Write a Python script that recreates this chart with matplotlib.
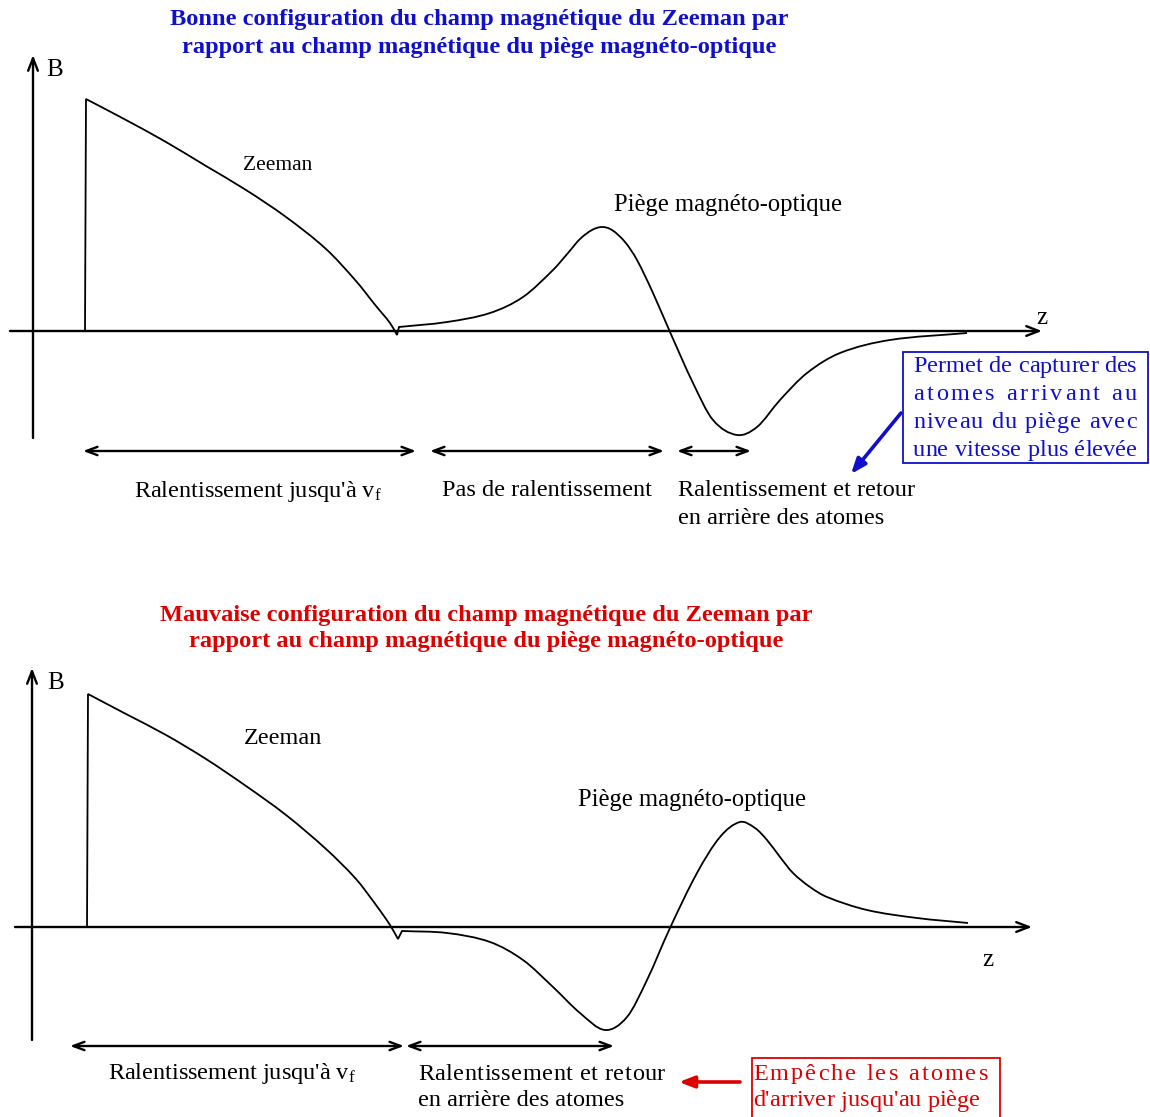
import matplotlib
matplotlib.use("Agg")
import matplotlib.pyplot as plt
from matplotlib.patches import Rectangle, PathPatch
from matplotlib.path import Path

plt.rcParams['font.family'] = ['Liberation Serif', 'DejaVu Serif']
plt.rcParams['mathtext.fontset'] = 'custom'
plt.rcParams['mathtext.rm'] = 'Liberation Serif'
plt.rcParams['mathtext.it'] = 'Liberation Serif'

# ---------------- data (z, B) ----------------
# Top panel: good configuration (B measured upward from the z axis)
z_top = [85, 86, 126, 166, 206, 246, 286, 326, 356, 376, 390, 397, 399,
         447, 490, 523, 553, 568, 580, 592, 602, 612, 625, 637, 653, 670,
         693, 713, 737, 757, 780, 807, 840, 890, 967]
B_top = [0, 232, 211, 189, 165, 141, 114, 82, 50, 25, 8, -4, 4,
         9, 18, 34, 61, 78, 92, 101, 104, 101, 89, 71, 38, -1,
         -52, -89, -104, -96, -69, -42, -22, -9, -2]

# Bottom panel: bad configuration
z_bot = [87, 88, 126, 166, 206, 246, 286, 326, 356, 376, 390, 398, 402,
         447, 490, 523, 553, 580, 605, 627, 647, 670, 697, 720, 740,
         755, 767, 780, 793, 810, 827, 867, 917, 968]
B_bot = [0, 233, 213, 192, 168, 141, 112, 78, 48, 22, 2, -12, -4,
         -6, -15, -33, -60, -86, -103, -90, -53, -1, 54, 90, 105,
         99, 87, 70, 54, 40, 30, 17, 9, 4]

# indices where the curve has a corner (foot, rise top, dip, jump)
corners_top = [0, 1, 11, 12]
corners_bot = [0, 1, 11, 12]

# Double-arrow segments (z start, z end)
seg_top = [(83, 416), (430, 664), (677, 751)]
seg_bot = [(70, 404), (406, 614)]

title_top = ["Bonne configuration du champ magnétique du Zeeman par",
             "rapport au champ magnétique du piège magnéto-optique"]
title_bot = ["Mauvaise configuration du champ magnétique du Zeeman par",
             "rapport au champ magnétique du piège magnéto-optique"]
lbl_slow = "Ralentissement jusqu'à v$_\\mathrm{f}$"
lbl_none = "Pas de ralentissement"
lbl_back = ["Ralentissement et retour", "en arrière des atomes"]
lbl_zeeman = "Zeeman"
lbl_mot = "Piège magnéto-optique"
blue_note = ["Permet de capturer des", "atomes arrivant au",
             "niveau du piège avec", "une vitesse plus élevée"]
red_note = ["Empêche les atomes", "d'arriver jusqu'au piège"]

BLUE = '#1010CC'
RED = '#DD0000'

W, H = 1150, 1117
fig = plt.figure(figsize=(W / 100, H / 100), dpi=100)

# panel axes: 1 data unit = 1 pixel, B = 0 on the z axis
Y0_TOP, Y0_BOT = 331, 927   # pixel row of z axes
SPLIT = 560
ax1 = fig.add_axes([0, (H - SPLIT) / H, 1, SPLIT / H])
ax1.set_xlim(0, W)
ax1.set_ylim(Y0_TOP - SPLIT, Y0_TOP)
ax2 = fig.add_axes([0, 0, 1, (H - SPLIT) / H])
ax2.set_xlim(0, W)
ax2.set_ylim(Y0_BOT - H, Y0_BOT - SPLIT)
for a in (ax1, ax2):
    a.axis('off')

renderer = fig.canvas.get_renderer()


def smooth_curve(ax, xs, ys, corners, **kw):
    """Draw y(x) through the points with cubic Hermite Bezier pieces,
    keeping sharp corners at the given indices."""
    n = len(xs)
    cset = set(corners) | {0, n - 1}

    def slope(i, side):
        if i in cset:
            j = i + 1 if side > 0 else i - 1
            return (ys[j] - ys[i]) / (xs[j] - xs[i])
        return (ys[i + 1] - ys[i - 1]) / (xs[i + 1] - xs[i - 1])

    verts = [(xs[0], ys[0])]
    codes = [Path.MOVETO]
    for i in range(n - 1):
        x0, y0, x1, y1 = xs[i], ys[i], xs[i + 1], ys[i + 1]
        if i in cset and i + 1 in cset:
            verts.append((x1, y1)); codes.append(Path.LINETO)
            continue
        dx = x1 - x0
        m0 = slope(i, +1)
        m1 = slope(i + 1, -1)
        verts += [(x0 + dx / 3, y0 + m0 * dx / 3),
                  (x1 - dx / 3, y1 - m1 * dx / 3), (x1, y1)]
        codes += [Path.CURVE4] * 3
    ax.add_patch(PathPatch(Path(verts, codes), fill=False, **kw))


def axis_arrow(ax, x0, y0, x1, y1):
    ax.annotate('', xy=(x1, y1), xytext=(x0, y0),
                arrowprops=dict(arrowstyle='->,head_length=0.9,head_width=0.35',
                                lw=1.7, color='black', shrinkA=0, shrinkB=0))


def double_arrow(ax, x0, x1, y):
    ax.annotate('', xy=(x1, y), xytext=(x0, y),
                arrowprops=dict(arrowstyle='<->,head_length=0.8,head_width=0.3',
                                lw=1.7, color='black', shrinkA=0, shrinkB=0))


def text_width(s, **kw):
    t = fig.text(0, 0, s, **kw)
    w = t.get_window_extent(renderer).width
    t.remove()
    return w


def justify(ax, line, x0, x1, y, **kw):
    """Spread the characters of a line evenly between x0 and x1."""
    ref = text_width("x", **kw)
    total = text_width(line, **kw)
    n = len(line)
    extra = (x1 - x0 - total) / max(n - 1, 1)
    for i, ch in enumerate(line):
        if ch == ' ':
            continue
        pre = text_width(line[:i] + "x", **kw) - ref if i > 0 else 0
        ax.text(x0 + pre + i * extra, y, ch, ha='left', va='center', **kw)


FS = 17.5
TFS = 17.6

# ---------------- top panel ----------------
ax = ax1
for i, s in enumerate(title_top):
    ax.text(479, Y0_TOP - (20 + 27 * i), s, ha='center', va='center',
            fontsize=TFS, fontweight='bold', color=BLUE)
axis_arrow(ax, 10, 0, 1042, 0)
axis_arrow(ax, 33, Y0_TOP - 438, 33, Y0_TOP - 55)
ax.text(46, Y0_TOP - 70, "B", fontsize=18, ha='left', va='center')
ax.text(1042, Y0_TOP - 318, "z", fontsize=18, ha='center', va='center')
smooth_curve(ax, z_top, B_top, corners_top, edgecolor='black', lw=1.3)
ax.text(278, Y0_TOP - 165, lbl_zeeman, fontsize=15.5, ha='center', va='center')
ax.text(728, Y0_TOP - 205, lbl_mot, fontsize=17.7, ha='center', va='center')
for a_, b_ in seg_top:
    double_arrow(ax, a_, b_, Y0_TOP - 451)
ax.text(258, Y0_TOP - 491, lbl_slow, fontsize=FS, ha='center', va='center')
ax.text(547, Y0_TOP - 491, lbl_none, fontsize=FS, ha='center', va='center')
ax.text(678, Y0_TOP - 491, lbl_back[0], fontsize=FS, ha='left', va='center')
ax.text(678, Y0_TOP - 519, lbl_back[1], fontsize=FS, ha='left', va='center')
ax.add_patch(Rectangle((903, Y0_TOP - 463), 245, 111, fill=False,
                       edgecolor=BLUE, lw=1.3))
for i, line in enumerate(blue_note):
    justify(ax, line, 913, 1137, Y0_TOP - (367 + 27.7 * i), fontsize=FS, color=BLUE)
ax.annotate('', xy=(851, Y0_TOP - 474), xytext=(901, Y0_TOP - 413),
            arrowprops=dict(arrowstyle='-|>,head_length=0.9,head_width=0.35',
                            lw=2.6, color=BLUE, shrinkA=0, shrinkB=0))

# ---------------- bottom panel ----------------
ax = ax2
for i, s in enumerate(title_bot):
    ax.text(486, Y0_BOT - (615 + 27 * i), s, ha='center', va='center',
            fontsize=TFS, fontweight='bold', color=RED)
axis_arrow(ax, 15, 0, 1032, 0)
axis_arrow(ax, 32, Y0_BOT - 1040, 32, Y0_BOT - 668)
ax.text(47, Y0_BOT - 683, "B", fontsize=18, ha='left', va='center')
ax.text(988, Y0_BOT - 960, "z", fontsize=18, ha='center', va='center')
smooth_curve(ax, z_bot, B_bot, corners_bot, edgecolor='black', lw=1.3)
ax.text(283, Y0_BOT - 738, lbl_zeeman, fontsize=17.5, ha='center', va='center')
ax.text(692, Y0_BOT - 800, lbl_mot, fontsize=17.7, ha='center', va='center')
for a_, b_ in seg_bot:
    double_arrow(ax, a_, b_, Y0_BOT - 1046)
ax.text(232, Y0_BOT - 1074, lbl_slow, fontsize=FS, ha='center', va='center')
justify(ax, lbl_back[0], 418, 665, Y0_BOT - 1074, fontsize=FS)
ax.text(418, Y0_BOT - 1101, lbl_back[1], fontsize=FS, ha='left', va='center')
ax.add_patch(Rectangle((752, Y0_BOT - 1130), 248, 72, fill=False,
                       edgecolor=RED, lw=1.3, clip_on=True))
for i, line in enumerate(red_note):
    justify(ax, line, 753, 988 if i == 0 else 980, Y0_BOT - (1074 + 27 * i),
            fontsize=FS, color=RED)
ax.annotate('', xy=(679, Y0_BOT - 1082), xytext=(740, Y0_BOT - 1082),
            arrowprops=dict(arrowstyle='-|>,head_length=0.9,head_width=0.35',
                            lw=2.6, color=RED, shrinkA=0, shrinkB=0))

fig.savefig('out.png', dpi=100)
